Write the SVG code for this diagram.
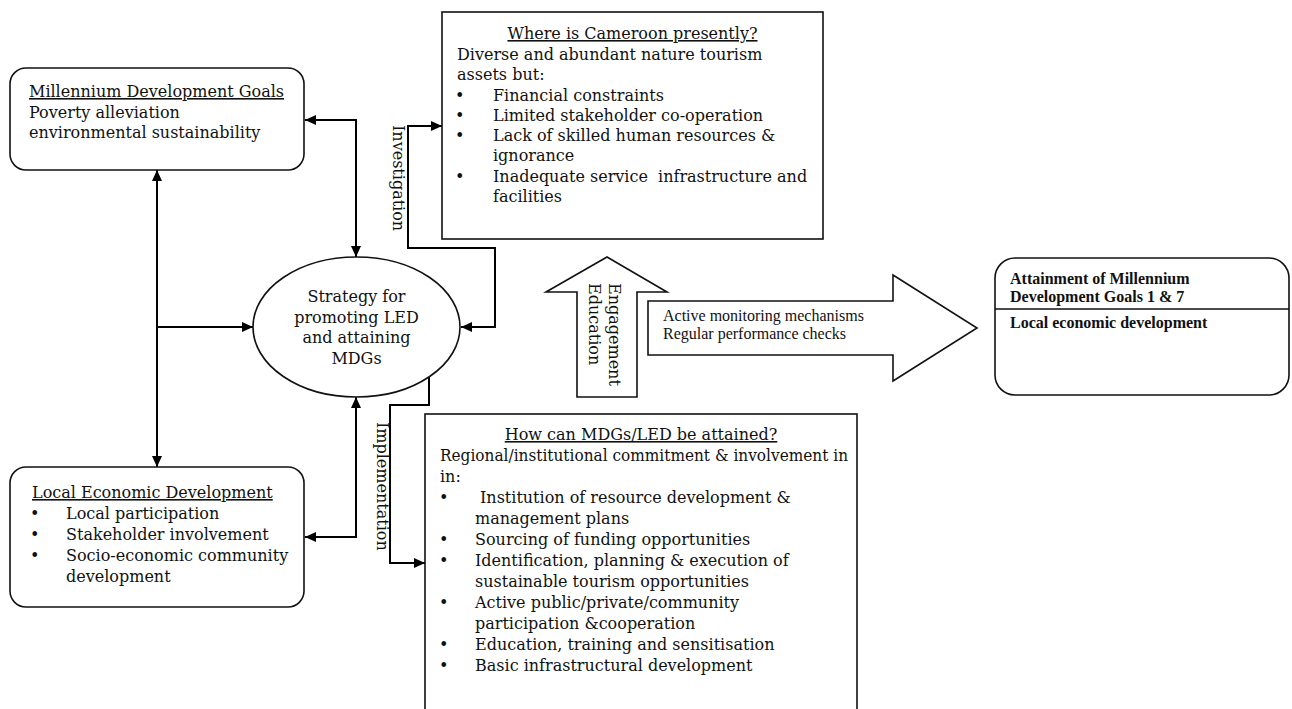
<svg xmlns="http://www.w3.org/2000/svg" width="1292" height="709" viewBox="0 0 1292 709">
<style>
.t{font-family:"DejaVu Serif","Liberation Serif",serif;font-size:16px;fill:#111}
.s{font-family:"Liberation Serif","Times New Roman",serif;font-size:16px;fill:#111}
.b{font-family:"Liberation Serif","Times New Roman",serif;font-size:16px;font-weight:bold;fill:#111}
.u{text-decoration:underline}
.box{fill:#fff;stroke:#111;stroke-width:1.6}
.c{fill:none;stroke:#000;stroke-width:2}
</style>
<defs>
<marker id="ah" markerUnits="userSpaceOnUse" markerWidth="12" markerHeight="12" refX="11" refY="5" orient="auto-start-reverse" viewBox="0 0 12 10">
<path d="M0,0 L11,5 L0,10 z" fill="#000"/>
</marker>
</defs>
<rect width="1292" height="709" fill="#fff"/>

<g id="connectors">
<path class="c" d="M305,120 H356 V257" marker-start="url(#ah)" marker-end="url(#ah)"/>
<path class="c" d="M157,170 V467" marker-start="url(#ah)" marker-end="url(#ah)"/>
<path class="c" d="M157,327 H253" marker-end="url(#ah)"/>
<path class="c" d="M305,537 H356 V397" marker-start="url(#ah)" marker-end="url(#ah)"/>
<path class="c" d="M461,327 H495 V248 H408 V126 H442" marker-start="url(#ah)" marker-end="url(#ah)"/>
<path class="c" d="M429,377 V405 H390 V563 H425" marker-end="url(#ah)"/>
<text class="t" transform="translate(393,125) rotate(90)">Investigation</text>
<text class="t" transform="translate(377,422) rotate(90)">Implementation</text>
</g>

<g id="mdg">
<rect class="box" x="10" y="68" width="294" height="102" rx="16"/>
<text class="t u" x="29" y="97">Millennium Development Goals</text>
<text class="t" x="29" y="118">Poverty alleviation</text>
<text class="t" x="29" y="138">environmental sustainability</text>
</g>

<g id="led">
<rect class="box" x="10" y="467" width="294" height="140" rx="16"/>
<text class="t u" x="32" y="498">Local Economic Development</text>
<text class="t" x="30" y="519">•</text><text class="t" x="66" y="519">Local participation</text>
<text class="t" x="30" y="540">•</text><text class="t" x="66" y="540">Stakeholder involvement</text>
<text class="t" x="30" y="561">•</text><text class="t" x="66" y="561">Socio-economic community</text>
<text class="t" x="66" y="582">development</text>
</g>

<g id="strategy">
<ellipse class="box" cx="356.5" cy="327" rx="103.5" ry="70"/>
<text class="t" x="356.5" y="302" text-anchor="middle">Strategy for</text>
<text class="t" x="356.5" y="323" text-anchor="middle">promoting LED</text>
<text class="t" x="356.5" y="343" text-anchor="middle">and attaining</text>
<text class="t" x="356.5" y="364" text-anchor="middle">MDGs</text>
</g>

<g id="where">
<rect class="box" x="442" y="12" width="381" height="227"/>
<text class="t u" x="632.5" y="39" text-anchor="middle">Where is Cameroon presently?</text>
<text class="t" x="457" y="60">Diverse and abundant nature tourism</text>
<text class="t" x="457" y="80">assets but:</text>
<text class="t" x="455" y="101">•</text><text class="t" x="493" y="101">Financial constraints</text>
<text class="t" x="455" y="121">•</text><text class="t" x="493" y="121">Limited stakeholder co-operation</text>
<text class="t" x="455" y="141">•</text><text class="t" x="493" y="141">Lack of skilled human resources &amp;</text>
<text class="t" x="493" y="161">ignorance</text>
<text class="t" x="455" y="182">•</text><text class="t" x="493" y="182" xml:space="preserve">Inadequate service  infrastructure and</text>
<text class="t" x="493" y="202">facilities</text>
</g>

<g id="how">
<rect class="box" x="425" y="414" width="432" height="300"/>
<text class="t u" x="641" y="440" text-anchor="middle">How can MDGs/LED be attained?</text>
<text class="t" x="440" y="461" textLength="408" lengthAdjust="spacingAndGlyphs">Regional/institutional commitment &amp; involvement in</text>
<text class="t" x="440" y="482">in:</text>
<text class="t" x="439" y="503">•</text><text class="t" x="480" y="503">Institution of resource development &amp;</text>
<text class="t" x="475" y="524">management plans</text>
<text class="t" x="439" y="545">•</text><text class="t" x="475" y="545">Sourcing of funding opportunities</text>
<text class="t" x="439" y="566">•</text><text class="t" x="475" y="566">Identification, planning &amp; execution of</text>
<text class="t" x="475" y="587">sustainable tourism opportunities</text>
<text class="t" x="439" y="608">•</text><text class="t" x="475" y="608">Active public/private/community</text>
<text class="t" x="475" y="629">participation &amp;cooperation</text>
<text class="t" x="439" y="650">•</text><text class="t" x="475" y="650">Education, training and sensitisation</text>
<text class="t" x="439" y="671">•</text><text class="t" x="475" y="671">Basic infrastructural development</text>
</g>

<g id="engagement">
<polygon class="box" points="607,257 667,292 637,292 637,397 577,397 577,292 546,292"/>
<text class="t" transform="translate(609,283) rotate(90)">Engagement</text>
<text class="t" transform="translate(589,283) rotate(90)">Education</text>
</g>

<g id="monitoring">
<polygon class="box" points="648,301 893,301 893,275 977,328 893,381 893,355 648,355"/>
<text class="s" x="663" y="321">Active monitoring mechanisms</text>
<text class="s" x="663" y="339">Regular performance checks</text>
</g>

<g id="attainment">
<rect class="box" x="995" y="258" width="294" height="137" rx="20"/>
<line x1="995" y1="309" x2="1289" y2="309" stroke="#111" stroke-width="1.6"/>
<text class="b" x="1010" y="284">Attainment of Millennium</text>
<text class="b" x="1010" y="302">Development Goals 1 &amp; 7</text>
<text class="b" x="1010" y="328">Local economic development</text>
</g>
</svg>
